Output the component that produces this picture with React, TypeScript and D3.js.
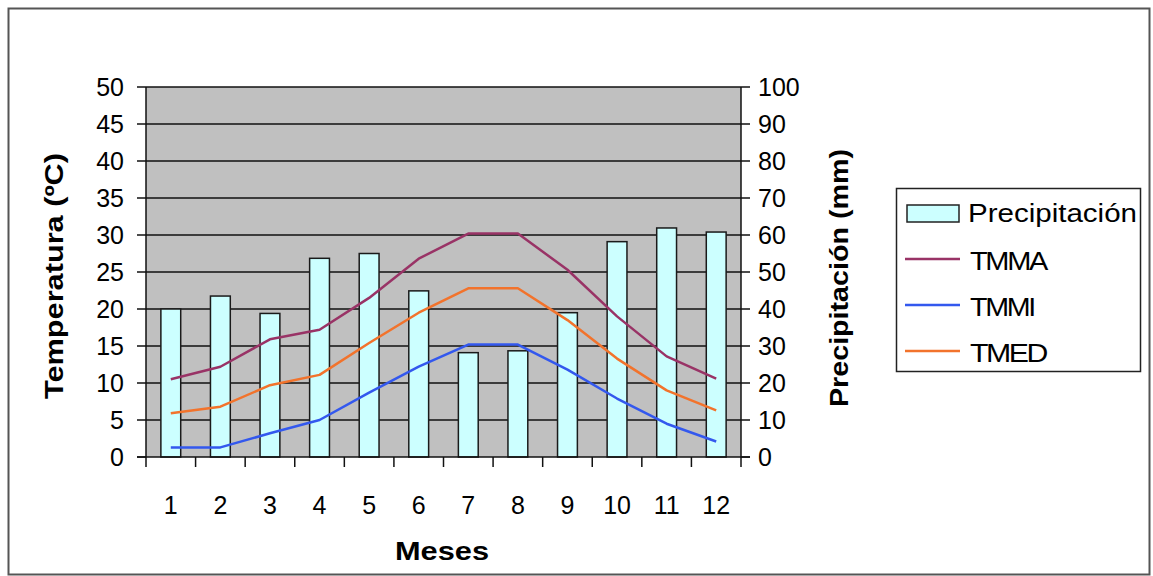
import React from "react";
import * as d3 from "d3";

const months = ["1", "2", "3", "4", "5", "6", "7", "8", "9", "10", "11", "12"];
const precipitacion = [40, 43.5, 38.8, 53.7, 55, 44.9, 28.2, 28.7, 39, 58.2, 61.9, 60.8];
const tmma = [10.5, 12.2, 15.9, 17.2, 21.5, 26.8, 30.2, 30.2, 25.3, 19.0, 13.6, 10.6];
const tmmi = [1.3, 1.3, 3.2, 5.0, 8.7, 12.2, 15.2, 15.2, 11.8, 7.9, 4.5, 2.1];
const tmed = [5.9, 6.8, 9.7, 11.1, 15.4, 19.5, 22.8, 22.8, 18.5, 13.3, 9.0, 6.3];
const tempTicks = [0, 5, 10, 15, 20, 25, 30, 35, 40, 45, 50];
const precTicks = [0, 10, 20, 30, 40, 50, 60, 70, 80, 90, 100];

const lineSeries = [
  { name: "TMMA", values: tmma, color: "#993366" },
  { name: "TMMI", values: tmmi, color: "#3358ee" },
  { name: "TMED", values: tmed, color: "#f2732c" },
];

const W = 1153, H = 576;
const L = 146, R = 741, T = 87, B = 457;
const FONT = "'Liberation Sans', Arial, sans-serif";

export default function App() {
  const x = d3.scaleBand<string>().domain(months).range([L, R]).paddingInner(0.6).paddingOuter(0.3);
  const step = x.step();
  const yT = d3.scaleLinear().domain([0, 50]).range([B, T]);
  const yP = d3.scaleLinear().domain([0, 100]).range([B, T]);
  const cx = (m: string) => (x(m) as number) + x.bandwidth() / 2;
  const line = d3.line<number>().x((_, i) => cx(months[i])).y((d) => yT(d));
  const boundaries = d3.range(months.length + 1).map((i) => L + (i * (R - L)) / months.length);

  return (
    <svg width={W} height={H} style={{ position: "absolute", left: 0, top: 0, background: "#fff" }} fontFamily={FONT}>
      <rect x={8.5} y={8.5} width={1141} height={566} fill="#fff" stroke="#555" strokeWidth={2} />
      <rect x={L} y={T} width={R - L} height={B - T} fill="#c0c0c0" />
      {tempTicks.filter((t) => t > 0).map((t) => (
        <line key={"g" + t} x1={L} x2={R} y1={yT(t)} y2={yT(t)} stroke="#111" strokeWidth={1.3} />
      ))}
      {precipitacion.map((v, i) => (
        <rect key={"b" + i} x={x(months[i])} y={yP(v)} width={x.bandwidth()} height={B - yP(v)}
          fill="#ccffff" stroke="#1a1a1a" strokeWidth={1.5} />
      ))}
      {lineSeries.map((s) => (
        <path key={s.name} d={line(s.values) || ""} fill="none" stroke={s.color} strokeWidth={2.5} strokeLinejoin="round" />
      ))}
      {/* axes */}
      <line x1={L} x2={L} y1={T} y2={B} stroke="#111" strokeWidth={1.5} />
      <line x1={R} x2={R} y1={T} y2={B} stroke="#111" strokeWidth={1.5} />
      <line x1={L - 9} x2={R + 9} y1={B} y2={B} stroke="#111" strokeWidth={1.5} />
      {tempTicks.map((t) => (
        <g key={"lt" + t}>
          <line x1={L - 9} x2={L} y1={yT(t)} y2={yT(t)} stroke="#111" strokeWidth={1.5} />
          <text x={124} y={yT(t)} dy="0.36em" textAnchor="end" fontSize={25} fill="#000">{t}</text>
        </g>
      ))}
      {precTicks.map((t) => (
        <g key={"rt" + t}>
          <line x1={R} x2={R + 9} y1={yP(t)} y2={yP(t)} stroke="#111" strokeWidth={1.5} />
          <text x={758} y={yP(t)} dy="0.36em" textAnchor="start" fontSize={25} fill="#000">{t}</text>
        </g>
      ))}
      {boundaries.map((b, i) => (
        <line key={"xt" + i} x1={b} x2={b} y1={B} y2={B + 10} stroke="#111" strokeWidth={1.5} />
      ))}
      {months.map((m) => (
        <text key={"xl" + m} x={cx(m)} y={505} dy="0.36em" textAnchor="middle" fontSize={25} fill="#000">{m}</text>
      ))}
      {/* titles */}
      <text x={442} y={560} textAnchor="middle" fontSize={25} fontWeight="bold" textLength={94} lengthAdjust="spacingAndGlyphs">Meses</text>
      <text transform="translate(63,276) rotate(-90)" textAnchor="middle" fontSize={25} fontWeight="bold"
        textLength={246} lengthAdjust="spacingAndGlyphs">Temperatura (ºC)</text>
      <text transform="translate(848,278) rotate(-90)" textAnchor="middle" fontSize={25} fontWeight="bold"
        textLength={258} lengthAdjust="spacingAndGlyphs">Precipitación (mm)</text>
      {/* legend */}
      <rect x={896.5} y={188.5} width={244} height={183} fill="#fff" stroke="#222" strokeWidth={1.5} />
      <rect x={907} y={205} width={52} height={17} fill="#ccffff" stroke="#222" strokeWidth={1.5} />
      <text x={968} y={213} dy="0.36em" fontSize={25} textLength={169} lengthAdjust="spacingAndGlyphs">Precipitación</text>
      {lineSeries.map((s, i) => (
        <g key={"lg" + s.name}>
          <line x1={905} x2={960} y1={259 + i * 46} y2={259 + i * 46} stroke={s.color} strokeWidth={2.5} />
          <text x={970} y={261 + i * 46} dy="0.36em" fontSize={25} textLength={s.name === "TMMI" ? 64 : 76}
            lengthAdjust="spacingAndGlyphs" letterSpacing={-2}>{s.name}</text>
        </g>
      ))}
    </svg>
  );
}
